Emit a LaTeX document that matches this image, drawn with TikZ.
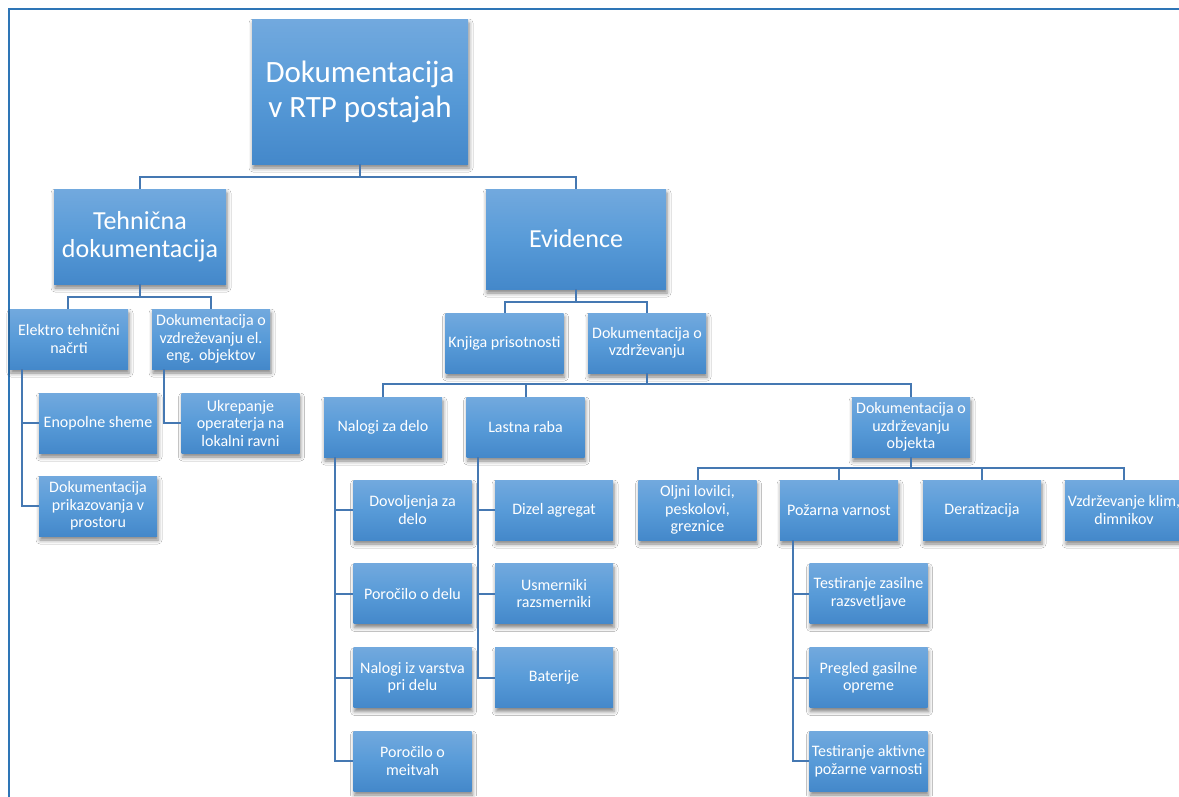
\documentclass[tikz,border=0pt]{standalone}
\usepackage{fontspec}
\setmainfont{Carlito}
\usetikzlibrary{shadows.blur}
\definecolor{gtop}{RGB}{114,169,222}
\definecolor{gmid}{RGB}{88,155,216}
\definecolor{gbot}{RGB}{68,136,202}
\definecolor{conncol}{RGB}{69,120,178}
\definecolor{framecol}{RGB}{46,117,182}
\tikzset{
  box/.style={rectangle, inner sep=0pt, text=white, align=center,
    top color=gtop, bottom color=gbot, middle color=gmid,
    blur shadow={shadow xshift=1pt, shadow yshift=-4pt, shadow blur radius=4pt, shadow opacity=50},
    font=\fontsize{16}{17.5}\selectfont},
  sbox/.style={box, minimum width=118pt, minimum height=60pt},
  conn/.style={draw=conncol, line width=2pt},
}
\begin{document}
\begin{tikzpicture}[x=1pt,y=-1pt]
\useasboundingbox (0,0) rectangle (1179,796);
\clip (0,0) rectangle (1179,796);
\fill[white] (0,0) rectangle (1179,796);
\draw[framecol, line width=1.6pt] (9,800) -- (9,9) -- (1190,9);

% nodes
\node[box, minimum width=216pt, minimum height=145pt, font=\fontsize{31}{35}\selectfont] (root) at (360,91.5) {Dokumentacija\\v RTP postajah};
\node[box, minimum width=172pt, minimum height=95pt, font=\fontsize{26}{28}\selectfont] (tech) at (140,236.5) {Tehnična\\dokumentacija};
\node[box, minimum width=180pt, minimum height=100pt, font=\fontsize{26}{28}\selectfont] (evid) at (576,239) {Evidence};

\node[sbox] (elek) at (69,339) {Elektro tehnični\\načrti};
\node[sbox] (dokel) at (211,339) {Dokumentacija o\\vzdreževanju el.\\eng. objektov};
\node[sbox] (enop) at (98,423) {Enopolne sheme};
\node[sbox] (dokpr) at (98,506) {Dokumentacija\\prikazovanja v\\prostoru};
\node[sbox] (ukrep) at (240.5,423) {Ukrepanje\\operaterja na\\lokalni ravni};

\node[sbox] (knjiga) at (504.5,343) {Knjiga prisotnosti};
\node[sbox] (dokvz) at (647,343) {Dokumentacija o\\vzdrževanju};

\node[sbox] (nalogi) at (383,427) {Nalogi za delo};
\node[sbox] (lastna) at (525.5,427) {Lastna raba};
\node[sbox] (dokobj) at (911,427) {Dokumentacija o\\uzdrževanju\\objekta};

\node[sbox] (dovol) at (412.5,510) {Dovoljenja za\\delo};
\node[sbox] (poroc) at (412.5,593.5) {Poročilo o delu};
\node[sbox] (nalvar) at (412.5,677.5) {Nalogi iz varstva\\pri delu};
\node[sbox] (porm) at (412.5,761) {Poročilo o\\meitvah};

\node[sbox] (dizel) at (554,510) {Dizel agregat};
\node[sbox] (usm) at (554,593.5) {Usmerniki\\razsmerniki};
\node[sbox] (bat) at (554,677.5) {Baterije};

\node[sbox] (olj) at (697.5,510) {Oljni lovilci,\\peskolovi,\\greznice};
\node[sbox] (poz) at (839,510) {Požarna varnost};
\node[sbox] (derat) at (982,510) {Deratizacija};
\node[sbox] (vzdr) at (1124,510) {Vzdrževanje klim,\\dimnikov};

\node[sbox] (tzas) at (868.5,593.5) {Testiranje zasilne\\razsvetljave};
\node[sbox] (pregl) at (868.5,677.5) {Pregled gasilne\\opreme};
\node[sbox] (takt) at (868.5,761) {Testiranje aktivne\\požarne varnosti};

% bar levels and hanging lines
\coordinate (b1) at (0,177);
\coordinate (b2) at (0,297);
\coordinate (b3) at (0,302);
\coordinate (b4) at (0,384);
\coordinate (b5) at (0,468);
\coordinate (h1) at (22,0);
\coordinate (h2) at (164,0);
\coordinate (h3) at (335,0);
\coordinate (h4) at (478,0);
\coordinate (h5) at (793,0);

% tree connectors
\draw[conn] (root.south) -- (root.south |- b1) -| (tech.north);
\draw[conn] (root.south |- b1) -| (evid.north);
\draw[conn] (tech.south) -- (tech.south |- b2) -| (elek.north -| 68,0);
\draw[conn] (tech.south |- b2) -| (dokel.north);
\draw[conn] (evid.south) -- (evid.south |- b3) -| (knjiga.north);
\draw[conn] (evid.south |- b3) -| (dokvz.north);
\draw[conn] (dokvz.south) -- (dokvz.south |- b4) -| (nalogi.north);
\draw[conn] (dokvz.south |- b4) -| (lastna.north);
\draw[conn] (dokvz.south |- b4) -| (dokobj.north);
\draw[conn] (dokobj.south) -- (dokobj.south |- b5) -| (olj.north);
\draw[conn] (dokobj.south |- b5) -| (poz.north);
\draw[conn] (dokobj.south |- b5) -| (derat.north);
\draw[conn] (dokobj.south |- b5) -| (vzdr.north);

% hanging connectors
\draw[conn] (h1 |- elek.south) -- (h1 |- dokpr.west) -- (dokpr.west);
\draw[conn] (h1 |- enop.west) -- (enop.west);
\draw[conn] (h2 |- dokel.south) -- (h2 |- ukrep.west) -- (ukrep.west);
\draw[conn] (h3 |- nalogi.south) -- (h3 |- porm.west) -- (porm.west);
\draw[conn] (h3 |- dovol.west) -- (dovol.west);
\draw[conn] (h3 |- poroc.west) -- (poroc.west);
\draw[conn] (h3 |- nalvar.west) -- (nalvar.west);
\draw[conn] (h4 |- lastna.south) -- (h4 |- bat.west) -- (bat.west);
\draw[conn] (h4 |- dizel.west) -- (dizel.west);
\draw[conn] (h4 |- usm.west) -- (usm.west);
\draw[conn] (h5 |- poz.south) -- (h5 |- takt.west) -- (takt.west);
\draw[conn] (h5 |- tzas.west) -- (tzas.west);
\draw[conn] (h5 |- pregl.west) -- (pregl.west);
\end{tikzpicture}
\end{document}
